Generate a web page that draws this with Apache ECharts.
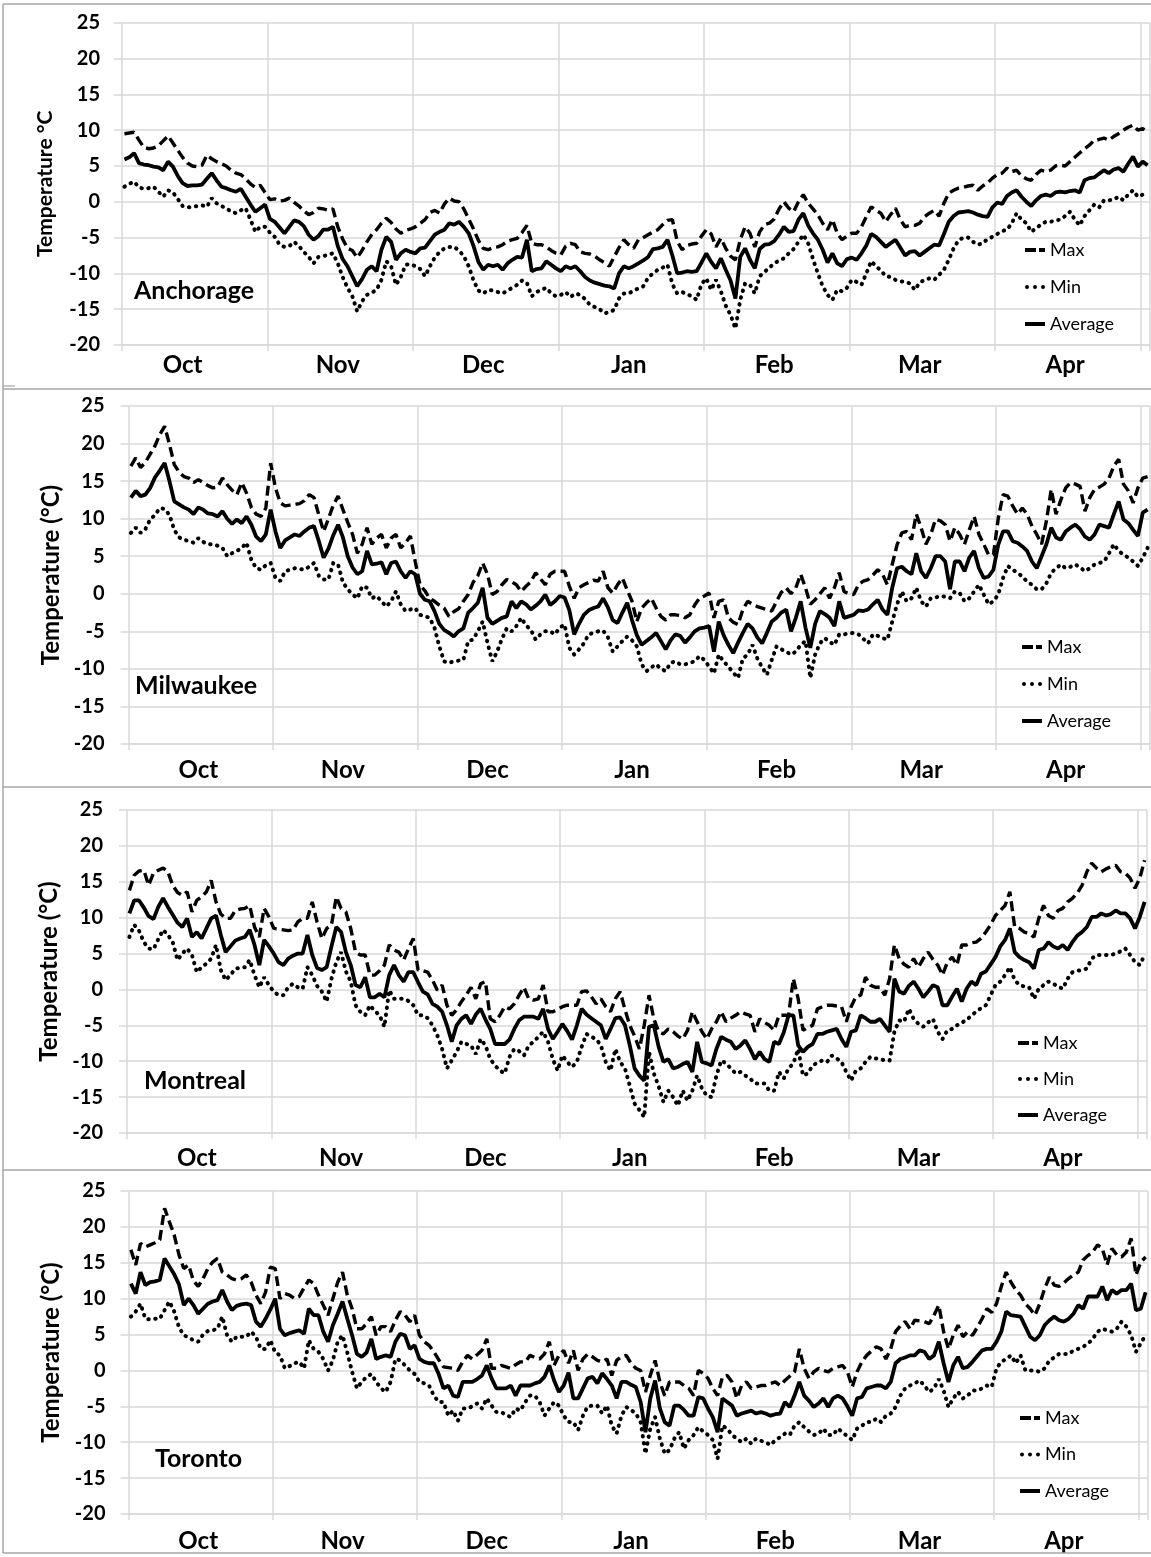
<!DOCTYPE html>
<html>
<head>
<meta charset="utf-8">
<title>Daily temperatures, October to April</title>
<script src="https://cdn.jsdelivr.net/npm/echarts@6/dist/echarts.min.js"></script>
<style>
  html, body { margin: 0; padding: 0; background: #ffffff; }
  #chart { width: 1151px; height: 1557px; }
</style>
</head>
<body>
<div id="chart"></div>
<script>
// Month names shown under each 30-day block of the category axis
const monthLabels = ['Oct', 'Nov', 'Dec', 'Jan', 'Feb', 'Mar', 'Apr'];
const seriesNames = ['Max', 'Min', 'Average'];

// Daily temperatures (°C), 1 October to 30 April
const anchorageMax = [
  9.5, 9.6, 9.7, 8.6, 7.6, 7.4, 7.5, 7.8, 8.5, 9.2,
  8.2, 7.2, 6.2, 5.4, 5.0, 4.9, 5.1, 6.5, 6.0, 5.6,
  5.3, 5.0, 4.4, 4.0, 3.8, 3.2, 2.5, 2.0, 2.3, 1.3,
  0.3, 0.4, 0.1, 0.2, 0.5, -0.1, -0.6, -1.3, -1.8, -1.5,
  -0.9, -1.0, -1.2, -1.0, -3.5, -5.2, -6.5, -6.8, -7.8, -6.8,
  -5.6, -4.6, -3.9, -3.0, -2.3, -2.9, -3.8, -4.4, -4.0, -3.8,
  -3.5, -3.0, -2.5, -1.5, -1.2, -1.6, -0.3, 0.5, 0.1, 0.0,
  -1.0, -2.4, -3.8, -5.4, -6.5, -6.7, -6.4, -6.3, -6.0, -5.5,
  -5.3, -5.1, -4.3, -3.3, -5.8, -6.0, -6.0, -6.3, -6.8, -7.2,
  -7.4, -6.2, -5.8, -6.0, -7.0, -7.2, -7.3, -7.6, -8.1, -8.5,
  -9.0, -7.7, -6.4, -5.3, -6.0, -6.5, -5.3, -5.0, -4.6, -4.2,
  -3.9, -3.2, -2.6, -2.5, -5.5, -6.7, -6.1, -5.9, -5.8, -4.8,
  -3.9, -4.5, -6.3, -5.1, -6.5, -7.6, -8.1, -5.3, -3.5, -4.4,
  -6.3, -4.2, -3.2, -3.0, -2.4, -1.0, 0.0, -0.9, -1.4, 0.0,
  1.0, -0.2, -1.0, -1.8, -3.0, -3.9, -2.5, -4.4, -5.3, -4.8,
  -4.4, -4.4, -3.5, -2.1, -0.7, -1.2, -1.6, -2.8, -1.8, -0.9,
  -2.5, -3.5, -3.3, -3.3, -3.0, -2.1, -1.6, -1.2, -2.0, -0.2,
  1.2, 1.6, 1.9, 2.0, 2.2, 2.3, 1.6, 2.2, 2.6, 3.3,
  3.8, 4.0, 4.7, 4.2, 4.4, 3.6, 3.2, 3.0, 3.8, 4.4,
  4.2, 4.4, 5.0, 5.1, 5.0, 5.6, 6.2, 6.8, 7.4, 7.9,
  8.6, 8.7, 8.9, 8.6, 9.1, 9.5, 10.0, 10.4, 10.7, 10.0,
  10.2, 9.8
];
const anchorageMin = [
  2.1, 2.5, 2.8, 2.0, 1.8, 1.9, 2.1, 1.4, 0.7, 1.6,
  1.3, 0.4, -0.6, -0.8, -0.7, -0.6, -0.5, -0.7, 0.5, -0.2,
  -0.6, -0.9, -1.4, -1.6, -1.2, -0.9, -2.5, -4.2, -3.5, -3.5,
  -4.3, -4.9, -6.0, -6.3, -6.2, -5.6, -6.2, -7.0, -7.7, -8.6,
  -7.7, -7.6, -7.4, -7.2, -8.6, -10.5, -12.0, -13.2, -15.3, -13.9,
  -13.0, -12.7, -12.3, -10.9, -8.3, -9.0, -11.6, -10.5, -8.8, -8.7,
  -9.0, -9.4, -10.4, -9.0, -7.8, -7.0, -6.5, -6.3, -6.3, -6.8,
  -7.6, -9.0, -11.0, -12.4, -12.8, -12.3, -12.4, -12.6, -12.8, -12.4,
  -12.0, -11.6, -11.0, -11.3, -13.2, -12.6, -12.3, -12.0, -12.8, -13.2,
  -13.0, -12.6, -13.3, -12.8, -13.0, -13.6, -14.4, -14.7, -15.0, -15.6,
  -15.4, -15.1, -13.5, -12.8, -12.8, -12.4, -12.1, -11.8, -10.6, -10.0,
  -9.5, -9.2, -8.8, -11.5, -12.8, -12.6, -12.9, -13.2, -13.7, -11.5,
  -10.7, -12.3, -10.9, -12.5, -14.5, -15.8, -17.7, -13.7, -11.4, -11.6,
  -12.8, -10.4, -9.8, -9.2, -8.6, -8.2, -7.9, -7.2, -6.6, -5.6,
  -4.6, -5.8, -8.0, -10.0, -11.8, -13.0, -13.7, -12.3, -12.5, -12.0,
  -10.9, -11.2, -11.6, -10.0, -8.3, -9.0, -9.6, -10.4, -10.5, -10.9,
  -11.1, -11.2, -11.4, -12.3, -11.3, -10.9, -10.7, -10.9, -10.2, -9.5,
  -8.1, -6.5, -5.4, -5.0, -5.0, -5.6, -6.0, -5.8, -5.2, -4.9,
  -4.5, -4.1, -3.9, -3.0, -1.6, -2.5, -3.0, -4.2, -3.7, -3.2,
  -2.8, -2.8, -2.6, -2.5, -2.0, -1.4, -2.5, -3.3, -2.0, -1.2,
  -0.4, -0.8, 0.2, 0.2, 0.3, 0.7, 0.2, 1.0, 1.6, 0.7,
  1.0, 1.2
];
const anchorageAvg = [
  5.9, 6.2, 6.8, 5.4, 5.2, 5.1, 4.9, 4.8, 4.4, 5.6,
  4.9, 3.6, 2.6, 2.2, 2.3, 2.3, 2.4, 3.2, 4.0, 3.0,
  2.1, 1.9, 1.6, 1.4, 1.8, 0.7, -0.4, -1.4, -0.9, -0.4,
  -2.4, -2.8, -3.6, -4.4, -3.5, -2.6, -2.8, -3.4, -4.6, -5.3,
  -4.8, -3.9, -3.9, -3.5, -6.2, -8.0, -9.0, -10.4, -11.8, -10.8,
  -9.5, -9.0, -9.7, -6.7, -4.9, -5.6, -8.1, -7.2, -6.7, -7.0,
  -7.2, -6.5, -6.4, -5.5, -4.6, -4.2, -3.9, -3.0, -3.2, -2.8,
  -3.5, -4.4, -6.2, -8.4, -9.5, -8.8, -9.0, -8.8, -9.5, -8.6,
  -8.1, -7.7, -7.8, -5.3, -9.7, -9.4, -9.3, -8.3, -8.8, -9.3,
  -9.7, -9.0, -9.3, -9.0, -9.7, -10.5, -11.0, -11.3, -11.5, -11.7,
  -11.8, -12.1, -10.0, -9.0, -9.3, -9.0, -8.6, -8.2, -7.7, -6.6,
  -6.5, -6.3, -5.3, -7.5, -10.0, -9.9, -9.7, -9.8, -9.7, -8.5,
  -7.2, -8.4, -9.3, -7.9, -9.5, -11.0, -13.5, -7.7, -6.5, -8.1,
  -9.3, -6.6, -6.0, -5.9, -5.5, -4.6, -3.5, -4.2, -4.1, -2.5,
  -1.6, -3.3, -4.4, -5.3, -6.7, -8.5, -7.2, -8.6, -9.0, -8.0,
  -7.8, -8.1, -7.2, -6.1, -4.5, -4.9, -5.6, -6.3, -5.8, -5.3,
  -6.4, -7.5, -7.0, -6.9, -7.5, -7.0, -6.5, -6.0, -6.1, -4.5,
  -2.8, -2.0, -1.5, -1.4, -1.3, -1.5, -1.8, -2.0, -2.1, -0.8,
  -0.1, -0.3, 0.8, 1.3, 1.6, 0.7, 0.0, -0.6, 0.2, 0.8,
  1.0, 0.8, 1.3, 1.4, 1.3, 1.5, 1.6, 1.3, 3.0, 3.3,
  3.4, 3.9, 4.4, 4.0, 4.5, 4.7, 4.2, 5.3, 6.3, 4.9,
  5.6, 5.1
];

const milwaukeeMax = [
  17.0, 18.1, 16.8, 17.5, 18.6, 19.7, 21.2, 22.3, 19.9, 17.2,
  16.2, 15.6, 15.4, 14.8, 15.2, 14.8, 14.4, 14.1, 14.2, 15.4,
  14.5, 13.8, 13.2, 14.8, 13.4, 11.5, 10.6, 10.3, 11.4, 17.4,
  14.1, 12.1, 11.7, 11.8, 11.9, 12.0, 12.4, 13.2, 12.8, 10.5,
  8.3, 10.0, 11.8, 13.0, 11.2, 9.5, 7.9, 5.4, 6.6, 8.8,
  6.6, 7.4, 7.9, 6.1, 7.4, 7.9, 6.1, 6.8, 7.7, 4.3,
  1.2, 0.4, -0.6, -1.0, -1.5, -1.9, -3.0, -2.4, -2.0, -1.0,
  -0.1, 1.5, 2.4, 4.1, 2.6, -0.1, 0.3, 1.2, 1.9, 1.6,
  1.2, 0.3, 1.0, 1.6, 2.8, 2.0, 1.2, 2.6, 3.0, 3.0,
  3.0, 1.0, -0.6, 0.8, 1.2, 1.5, 1.8, 1.7, 3.0, 0.8,
  0.1, 1.2, 2.1, 0.5, -1.0, -3.7, -1.9, -1.2, -0.6, -1.9,
  -3.0, -3.5, -2.8, -2.8, -2.9, -3.2, -2.8, -1.5, -0.6, -0.3,
  0.1, -3.2, -1.0, -0.8, -3.2, -3.8, -4.1, -2.1, -1.0, -1.4,
  -1.7, -1.9, -2.1, -2.3, -1.0, 0.2, 0.8, 0.0, 0.8, 2.6,
  0.8, -1.4, -0.8, 0.0, 0.8, -0.6, 0.8, 2.8, 0.3, 0.0,
  -0.1, 1.2, 1.7, 1.9, 2.5, 3.2, 2.6, 1.2, 3.9, 6.5,
  8.1, 8.3, 7.2, 10.6, 8.8, 6.6, 7.9, 9.9, 9.7, 9.2,
  7.0, 8.8, 7.9, 6.6, 8.5, 10.3, 7.9, 6.6, 5.2, 5.2,
  10.0, 13.2, 13.0, 11.7, 10.6, 11.4, 10.6, 9.0, 7.9, 6.6,
  9.7, 13.9, 10.6, 12.5, 14.1, 14.8, 14.6, 14.3, 11.0, 12.8,
  13.9, 14.2, 14.6, 15.4, 17.0, 17.9, 14.6, 13.7, 12.1, 14.1,
  15.4, 15.6
];
const milwaukeeMin = [
  8.1, 8.8, 8.1, 8.6, 9.9, 10.5, 11.4, 11.3, 10.5, 8.5,
  7.5, 7.2, 7.0, 6.8, 7.4, 6.9, 6.6, 6.6, 6.4, 6.1,
  5.0, 5.4, 5.7, 6.1, 6.8, 4.5, 3.4, 3.2, 3.8, 4.1,
  2.1, 1.7, 3.0, 3.2, 3.4, 3.3, 3.2, 3.6, 4.1, 2.4,
  1.9, 1.9, 4.1, 3.9, 1.5, 0.6, -0.1, -0.6, 1.0, 0.8,
  -0.6, -0.3, -1.0, -1.7, -1.0, 0.3, -1.4, -2.3, -2.1, -1.9,
  -2.8, -3.0, -3.2, -4.5, -7.0, -9.0, -9.2, -9.0, -8.9, -8.8,
  -6.3, -6.1, -5.0, -3.7, -6.5, -9.0, -7.7, -6.0, -4.6, -5.0,
  -4.3, -3.2, -4.2, -4.8, -6.1, -5.4, -5.0, -5.0, -5.4, -4.5,
  -4.1, -7.2, -8.1, -7.4, -6.6, -5.4, -5.2, -5.0, -4.9, -5.8,
  -7.7, -7.0, -6.3, -5.7, -6.2, -7.0, -9.4, -10.3, -9.8, -9.4,
  -10.0, -10.3, -9.2, -9.0, -9.4, -9.4, -9.2, -9.0, -8.3, -8.8,
  -9.7, -10.6, -8.1, -9.0, -9.7, -10.5, -11.2, -8.6, -8.1, -6.8,
  -8.6, -9.8, -10.8, -8.8, -7.0, -7.4, -7.7, -8.1, -7.7, -6.8,
  -6.3, -11.2, -8.1, -6.6, -5.9, -6.4, -6.8, -5.4, -5.4, -5.3,
  -5.2, -5.4, -6.0, -6.6, -5.4, -5.6, -5.9, -6.1, -3.7, -1.4,
  0.3, -1.0, -0.6, 0.8, -1.0, -1.7, -0.6, -0.5, -0.3, -0.4,
  -0.6, 0.3, 0.1, -1.0, -0.6, 0.3, 1.2, -0.1, -1.4, -1.0,
  -0.1, 2.1, 3.7, 3.2, 2.8, 2.3, 1.6, 1.2, 0.6, 0.6,
  1.4, 2.8, 3.4, 3.9, 3.4, 3.6, 3.9, 3.5, 3.0, 3.4,
  3.9, 4.1, 4.3, 5.4, 6.6, 5.7, 5.2, 4.8, 4.3, 3.7,
  4.8, 6.1
];
const milwaukeeAvg = [
  12.8, 13.7, 13.0, 13.2, 14.1, 15.5, 16.4, 17.4, 15.0, 12.3,
  11.9, 11.5, 11.2, 10.6, 11.5, 11.2, 10.7, 10.6, 10.3, 11.0,
  10.0, 9.3, 9.9, 9.4, 10.3, 9.2, 7.6, 7.0, 7.9, 11.2,
  8.3, 6.1, 7.1, 7.5, 7.9, 7.7, 8.3, 8.8, 9.0, 7.0,
  4.8, 6.0, 7.8, 9.2, 7.5, 5.0, 3.5, 2.6, 3.0, 5.7,
  3.9, 4.0, 4.2, 2.6, 4.1, 4.3, 3.0, 2.1, 3.0, 2.6,
  0.0, -0.8, -1.0, -2.3, -4.0, -4.8, -5.2, -5.7, -5.0, -4.6,
  -2.5, -1.9, -1.2, 0.8, -3.2, -4.0, -3.6, -3.2, -3.0, -1.0,
  -1.9, -1.0, -1.4, -2.1, -1.6, -1.0, -0.1, -1.5, -1.0, -0.3,
  -0.5, -2.2, -5.4, -4.0, -2.8, -2.2, -1.9, -1.7, -0.6, -1.8,
  -3.5, -3.9, -2.5, -1.2, -3.5, -5.5, -6.8, -6.3, -5.8, -5.2,
  -6.3, -7.4, -6.2, -5.4, -5.6, -6.5, -5.8, -5.0, -4.6, -4.5,
  -4.3, -7.7, -3.7, -5.5, -6.8, -7.9, -6.5, -5.2, -4.0, -4.6,
  -5.8, -6.6, -5.2, -3.7, -3.2, -2.5, -2.1, -5.0, -3.2, -1.0,
  -4.5, -7.2, -4.0, -2.3, -2.7, -3.2, -4.3, -1.0, -3.2, -3.0,
  -2.8, -2.2, -2.3, -2.1, -1.4, -0.8, -2.1, -2.8, 0.8, 3.4,
  3.6, 3.0, 2.6, 5.4, 3.0, 2.1, 3.4, 5.0, 5.0, 4.3,
  0.6, 4.3, 4.3, 3.0, 4.8, 5.7, 3.4, 2.1, 2.3, 3.2,
  6.5, 8.3, 8.3, 7.0, 6.8, 6.3, 5.7, 4.3, 3.4, 5.0,
  6.6, 8.8, 7.5, 7.2, 8.3, 8.8, 9.2, 8.6, 7.6, 7.2,
  7.9, 9.2, 9.0, 8.8, 10.6, 12.3, 9.9, 9.4, 8.5, 7.7,
  10.8, 11.2
];

const montrealMax = [
  13.8, 15.9, 16.5, 16.6, 14.5, 16.2, 16.6, 16.9, 16.4, 14.5,
  13.5, 13.1, 13.6, 10.8, 12.4, 12.9, 13.6, 15.2, 12.2, 10.5,
  9.9, 9.9, 11.0, 11.2, 11.3, 11.7, 8.7, 7.3, 11.3, 10.1,
  8.5, 8.4, 8.3, 8.2, 8.3, 9.4, 9.9, 9.9, 12.2, 9.4,
  7.1, 8.5, 9.0, 12.9, 11.3, 10.8, 8.5, 5.2, 4.8, 4.8,
  2.0, 2.0, 2.6, 3.4, 6.2, 5.5, 5.2, 4.1, 5.7, 7.1,
  2.7, 2.6, 2.4, 1.3, -0.1, 0.6, -2.2, -3.6, -2.8, -1.7,
  -0.8, 0.3, -1.3, 0.8, 1.1, -4.1, -4.5, -3.6, -2.4, -2.7,
  -2.0, -0.8, 0.3, -1.3, -1.5, -1.3, 0.6, -3.1, -3.1, -2.8,
  -2.4, -2.2, -2.2, -2.2, -0.3, -0.2, -1.0, -2.0, -1.3, -2.4,
  -3.1, -1.3, -0.3, -2.8, -5.0, -6.5, -8.3, -5.0, -0.8, -4.1,
  -5.9, -6.2, -5.5, -5.9, -6.5, -6.9, -5.7, -3.1, -4.5, -5.9,
  -6.9, -5.5, -4.5, -3.1, -4.5, -4.0, -3.6, -3.1, -3.4, -3.6,
  -5.9, -4.1, -4.6, -5.0, -5.7, -3.6, -3.6, -3.6, 1.5, -1.3,
  -5.7, -5.3, -5.0, -2.7, -2.4, -2.2, -2.2, -2.3, -2.4, -4.5,
  -2.4, -1.0, -0.8, 1.7, 0.6, 0.3, 0.3, -0.8, 1.5, 6.2,
  4.3, 3.5, 3.1, 4.3, 3.1, 4.3, 5.2, 4.2, 3.4, 2.0,
  3.8, 4.5, 3.4, 6.2, 6.2, 6.5, 6.6, 7.1, 8.0, 9.0,
  10.3, 11.0, 11.7, 13.6, 8.7, 8.5, 8.0, 7.8, 7.3, 9.9,
  11.7, 10.3, 9.9, 11.0, 11.3, 12.2, 12.7, 13.4, 14.5, 16.4,
  17.6, 16.9, 16.4, 16.8, 17.1, 17.3, 16.4, 16.2, 15.5, 14.1,
  15.5, 18.0
];
const montrealMin = [
  7.3, 9.0, 8.2, 6.6, 5.7, 5.6, 7.0, 8.3, 7.6, 6.6,
  4.1, 5.0, 5.7, 4.8, 2.4, 3.1, 3.6, 4.3, 6.2, 2.7,
  1.3, 2.0, 2.9, 3.0, 3.1, 4.1, 2.0, 0.3, 1.7, 0.6,
  -0.3, -0.8, -0.8, 0.3, 0.8, 0.3, 0.1, 3.1, 2.0, 0.5,
  -0.3, -1.7, 1.5, 3.8, 5.2, 2.5, 1.1, -2.2, -3.1, -3.6,
  -2.2, -3.0, -3.6, -5.2, -0.1, -1.3, -1.3, -1.3, -1.6, -2.2,
  -3.6, -3.6, -4.0, -5.0, -6.4, -8.3, -11.0, -9.9, -8.7, -7.3,
  -7.6, -7.8, -9.0, -6.9, -7.8, -9.7, -10.6, -11.3, -11.7, -9.4,
  -8.3, -8.6, -9.2, -7.8, -7.3, -6.6, -5.9, -7.3, -9.7, -11.3,
  -9.2, -10.1, -10.8, -10.1, -8.0, -6.2, -6.6, -6.9, -7.8, -10.1,
  -11.3, -8.3, -10.1, -11.0, -13.4, -15.9, -16.8, -17.8, -8.7, -11.7,
  -13.5, -15.7, -14.1, -15.0, -16.2, -14.1, -15.5, -14.1, -12.0, -13.8,
  -14.8, -15.0, -12.0, -9.9, -10.3, -11.0, -11.7, -11.5, -12.0, -12.4,
  -13.1, -13.1, -13.1, -14.1, -14.1, -11.5, -12.4, -11.0, -10.3, -8.3,
  -12.0, -11.7, -10.6, -10.2, -9.9, -10.1, -9.2, -9.6, -10.1, -11.5,
  -12.7, -11.3, -11.0, -10.1, -9.4, -9.6, -9.7, -9.9, -9.9, -5.9,
  -4.3, -4.5, -2.7, -4.1, -4.8, -5.2, -4.6, -4.1, -5.9, -6.9,
  -5.7, -5.5, -5.0, -4.6, -4.3, -3.6, -3.1, -2.6, -2.2, -0.8,
  0.6, 1.1, 2.0, 3.1, 1.3, 0.6, 0.4, 0.3, -1.3, 0.1,
  0.6, 1.1, 0.8, 0.4, 0.1, 1.5, 2.4, 2.6, 2.7, 2.9,
  4.3, 4.8, 4.8, 4.8, 4.8, 5.0, 5.3, 5.7, 4.8, 3.8,
  3.4, 4.8
];
const montrealAvg = [
  10.6, 12.4, 12.4, 11.4, 10.2, 9.8, 11.5, 12.7, 11.5, 10.4,
  9.3, 8.7, 9.9, 7.3, 8.0, 7.1, 8.5, 9.9, 10.3, 7.6,
  5.2, 6.0, 6.8, 7.1, 7.3, 8.3, 6.2, 3.4, 6.9, 6.0,
  5.0, 3.8, 3.4, 4.3, 4.7, 5.0, 5.0, 7.6, 4.8, 3.0,
  2.7, 3.1, 6.0, 8.7, 8.0, 5.2, 3.4, 0.6, 0.3, 1.7,
  -1.1, -1.1, -0.6, -1.1, 2.0, 3.4, 2.0, 1.1, 2.4, 2.4,
  1.0, -0.3, -0.7, -2.0, -2.4, -3.1, -5.0, -7.3, -5.0, -4.1,
  -3.6, -4.8, -3.5, -2.7, -4.2, -5.5, -7.6, -7.6, -7.6, -7.0,
  -5.5, -4.3, -3.8, -3.8, -3.8, -4.1, -2.7, -5.5, -6.9, -5.9,
  -4.8, -5.8, -7.0, -5.0, -2.7, -3.5, -4.0, -4.5, -5.0, -6.9,
  -5.5, -4.0, -3.9, -5.0, -7.8, -11.0, -12.0, -12.7, -5.2, -5.0,
  -8.0, -10.1, -9.7, -11.0, -10.8, -10.4, -10.1, -11.5, -7.3, -10.1,
  -10.3, -10.6, -8.3, -6.6, -7.0, -7.3, -8.3, -7.8, -7.1, -8.3,
  -9.7, -8.7, -9.7, -10.1, -7.3, -7.6, -6.0, -3.6, -3.6, -7.8,
  -8.7, -8.0, -7.6, -6.2, -6.2, -5.9, -5.7, -5.5, -6.9, -8.0,
  -5.9, -5.7, -3.6, -4.0, -4.5, -4.5, -4.1, -5.0, -5.9, 1.5,
  -0.3, -0.6, 0.5, 1.1, 0.1, -1.1, -0.3, 0.6, 0.3, -2.2,
  -2.2, -1.0, 0.1, -1.7, 0.1, 1.1, 0.6, 2.2, 2.5, 3.5,
  4.5, 6.0, 6.9, 8.5, 5.2, 4.5, 4.1, 3.8, 2.9, 5.5,
  5.7, 6.6, 6.0, 5.7, 6.2, 5.5, 6.6, 7.5, 8.0, 8.7,
  10.1, 10.1, 10.6, 10.3, 10.5, 11.0, 10.6, 10.6, 9.9, 8.5,
  10.1, 12.2
];

const torontoMax = [
  16.8, 14.7, 17.7, 17.2, 17.5, 17.8, 18.2, 22.6, 20.7, 18.9,
  16.1, 14.2, 14.7, 12.5, 11.7, 12.8, 14.2, 15.1, 15.6, 13.7,
  13.3, 12.8, 12.6, 12.8, 13.3, 12.3, 10.5, 9.3, 10.9, 14.4,
  14.2, 10.0, 10.7, 10.5, 10.0, 10.3, 11.5, 12.6, 12.1, 10.5,
  9.1, 7.7, 10.0, 12.3, 13.7, 10.5, 8.6, 5.8, 5.8, 6.5,
  7.5, 4.9, 6.1, 6.1, 5.4, 7.0, 8.2, 7.7, 6.8, 7.7,
  4.9, 4.0, 3.5, 2.6, 1.5, 0.5, 0.4, 0.3, 0.0, 1.2,
  2.1, 1.6, 2.2, 2.8, 4.4, 0.3, 0.3, 0.7, 0.5, 0.3,
  0.8, 1.2, 1.2, 2.1, 1.8, 1.6, 2.3, 4.0, 0.7, 2.1,
  2.8, 1.0, 2.8, 0.0, 1.6, 2.3, 1.9, 1.4, 1.2, 1.6,
  -0.7, 1.4, 1.9, 2.1, 1.0, 0.3, 0.0, -3.0, -0.7, 1.4,
  -1.6, -3.5, -1.6, -1.6, -1.6, -2.1, -2.5, -3.5, 0.0, -0.4,
  -1.1, -2.5, -3.5, -0.9, -0.7, -1.6, -3.9, -2.1, -1.6, -2.5,
  -2.3, -2.1, -2.1, -1.8, -1.6, -2.1, -1.4, -0.8, -0.2, 3.0,
  0.3, -1.1, -0.2, 0.3, 0.0, -0.2, 0.3, 0.5, 0.7, -0.2,
  -2.3, -0.2, 1.2, 2.1, 2.7, 3.3, 3.0, 1.6, 3.0, 5.4,
  6.2, 6.8, 5.8, 7.0, 6.9, 6.8, 6.5, 7.7, 9.1, 5.4,
  3.0, 4.9, 6.3, 4.7, 5.4, 4.9, 6.0, 7.2, 8.6, 8.1,
  9.3, 11.7, 13.7, 12.3, 11.2, 10.5, 9.3, 8.6, 7.7, 9.3,
  11.4, 13.0, 11.9, 11.7, 12.2, 12.8, 13.3, 13.7, 15.4, 16.0,
  16.5, 17.5, 17.0, 14.7, 17.0, 16.1, 15.8, 16.5, 18.4, 13.3,
  15.1, 15.8
];
const torontoMin = [
  7.5, 8.2, 9.3, 7.2, 7.1, 7.2, 7.2, 8.4, 9.6, 8.2,
  6.0, 4.9, 4.6, 4.2, 4.0, 5.0, 5.5, 5.6, 5.8, 7.5,
  4.9, 4.0, 4.7, 4.7, 4.7, 5.4, 4.7, 3.0, 3.0, 4.2,
  2.5, 2.1, 0.3, 0.6, 1.0, 1.2, 0.3, 4.2, 3.0, 2.6,
  1.6, 0.0, 1.4, 4.0, 4.9, 2.5, -0.2, -2.5, -1.6, -0.9,
  -0.5, -1.6, -2.5, -3.0, -1.6, 1.6, 1.4, 0.7, 0.0, -0.5,
  -1.6, -1.8, -2.1, -3.5, -4.4, -4.4, -6.3, -5.6, -7.0, -5.3,
  -5.3, -5.0, -4.6, -5.3, -3.9, -4.9, -5.8, -5.8, -6.2, -6.5,
  -5.3, -5.6, -4.4, -3.5, -3.5, -4.4, -6.3, -5.3, -4.4, -4.9,
  -6.3, -7.2, -7.2, -8.3, -6.3, -5.0, -4.9, -4.9, -6.0, -4.9,
  -7.7, -8.8, -6.3, -5.1, -5.5, -6.0, -7.2, -11.6, -8.1, -6.5,
  -9.5, -11.6, -11.1, -9.5, -8.6, -10.9, -9.7, -9.0, -7.9, -8.5,
  -9.0, -9.7, -12.3, -7.7, -8.1, -9.0, -9.5, -10.0, -9.5, -10.2,
  -9.5, -9.8, -10.0, -10.4, -9.7, -9.3, -8.8, -9.0, -7.7, -7.2,
  -7.9, -8.5, -9.0, -8.8, -8.1, -9.0, -9.0, -8.1, -8.6, -9.2,
  -9.7, -8.1, -7.7, -7.2, -7.2, -6.7, -7.2, -6.3, -6.0, -5.1,
  -3.5, -2.5, -2.1, -1.8, -1.4, -2.1, -3.0, -2.5, -1.2, -2.8,
  -5.1, -3.9, -3.0, -3.9, -3.5, -2.8, -2.8, -2.5, -2.1, -2.3,
  0.3, 1.2, 1.6, 2.1, 1.0, 2.1, 0.0, 0.0, 0.0, -0.2,
  0.3, 1.4, 1.8, 2.3, 2.3, 2.3, 2.8, 3.0, 3.3, 3.7,
  4.4, 5.4, 5.8, 5.6, 5.4, 5.8, 6.8, 6.1, 4.9, 2.6,
  3.8, 4.9
];
const torontoAvg = [
  12.1, 10.7, 13.7, 11.9, 12.3, 12.4, 12.6, 15.6, 14.5, 13.4,
  12.0, 9.1, 10.0, 9.1, 7.9, 8.6, 9.3, 9.6, 9.8, 11.2,
  9.6, 8.4, 9.0, 9.2, 9.3, 9.1, 6.8, 6.1, 7.2, 8.5,
  10.0, 5.8, 4.9, 5.2, 5.4, 5.6, 5.1, 8.6, 7.7, 7.7,
  5.4, 4.0, 6.3, 7.9, 9.6, 7.2, 4.9, 2.3, 1.9, 2.5,
  4.4, 1.6, 1.9, 2.1, 1.9, 4.0, 5.1, 4.9, 3.0, 3.5,
  1.6, 1.2, 1.0, 1.0, -0.5, -2.5, -2.1, -3.5, -3.7, -1.6,
  -1.6, -1.6, -1.2, -0.7, 0.7, -1.1, -2.5, -2.5, -2.5, -2.1,
  -3.5, -2.1, -2.1, -2.1, -1.8, -1.6, -0.9, 0.7, -1.4, -3.0,
  -2.1, -0.3, -3.9, -3.9, -2.5, -1.1, -0.9, -1.8, -0.4, -1.2,
  -2.1, -3.9, -1.6, -1.6, -2.0, -2.3, -4.4, -8.6, -3.9, -1.4,
  -5.3, -7.2, -7.7, -4.9, -4.9, -5.5, -6.3, -6.3, -3.7, -3.9,
  -5.3, -6.5, -8.6, -3.9, -4.4, -4.9, -6.3, -6.0, -5.8, -5.6,
  -6.0, -5.8, -6.0, -6.3, -6.1, -6.0, -4.4, -5.1, -3.5, -1.6,
  -3.5, -4.2, -5.1, -4.6, -3.9, -5.1, -3.9, -3.5, -3.9, -5.0,
  -6.3, -3.9, -3.7, -2.5, -2.3, -2.1, -2.1, -2.5, -1.6, 1.0,
  1.6, 1.8, 2.1, 2.1, 2.8, 2.6, 1.6, 2.1, 4.0, 1.0,
  -1.6, 0.7, 1.9, 0.3, 0.5, 1.2, 2.0, 2.8, 3.0, 3.0,
  4.0, 5.4, 8.2, 7.7, 7.6, 7.5, 6.1, 4.7, 4.2, 4.9,
  6.3, 7.0, 7.5, 7.0, 6.8, 7.2, 7.9, 9.1, 8.6, 10.3,
  10.3, 10.3, 11.7, 9.8, 11.2, 10.7, 11.2, 11.2, 12.1, 8.4,
  8.6, 10.9
];

// Category axis: one slot per day
const days = anchorageMax.map((_, i) => i + 1);

const FONT = 'Lato, "Liberation Sans", "DejaVu Sans", sans-serif';
const GRID_GRAY = '#d9d9d9';
const INK = '#000000';

// Legend swatches: dashed, dotted and solid strokes
const ICON_MAX = 'path://M0,0H11V4H0Z M14,0H20V4H14Z';
const ICON_MIN = 'path://M0,2a2,2 0 1,0 4,0a2,2 0 1,0 -4,0Z M8,2a2,2 0 1,0 4,0a2,2 0 1,0 -4,0Z M16,2a2,2 0 1,0 4,0a2,2 0 1,0 -4,0Z';
const ICON_AVG = 'path://M0,0H20V4H0Z';

// One panel per city, stacked top to bottom
const panels = [
  { city: 'Anchorage', yName: 'Temperature °C', max: anchorageMax, min: anchorageMin, avg: anchorageAvg,
    left: 122, top: 22.7, width: 1028, height: 322.3, labelDays: [12, 44, 74, 104, 134, 164, 194],
    xMargin: 8, yMargin: 22, nameGap: 66, nameSize: 21,
    legendLeft: 1025, legendTop: 240, legendGap: 17, cityLeft: 134, cityTop: 278 },
  { city: 'Milwaukee', yName: 'Temperature (°C)', max: milwaukeeMax, min: milwaukeeMin, avg: milwaukeeAvg,
    left: 128.5, top: 406, width: 1021.5, height: 338, labelDays: [14, 44, 74, 104, 134, 164, 194],
    xMargin: 14, yMargin: 24, nameGap: 65, nameSize: 24,
    legendLeft: 1022, legendTop: 637, legendGap: 17, cityLeft: 135, cityTop: 673 },
  { city: 'Montreal', yName: 'Temperature (°C)', max: montrealMax, min: montrealMin, avg: montrealAvg,
    left: 127, top: 810, width: 1020, height: 323, labelDays: [14, 44, 74, 104, 134, 164, 194],
    xMargin: 13, yMargin: 24, nameGap: 64, nameSize: 24,
    legendLeft: 1018, legendTop: 1033, legendGap: 16, cityLeft: 144, cityTop: 1068 },
  { city: 'Toronto', yName: 'Temperature (°C)', max: torontoMax, min: torontoMin, avg: torontoAvg,
    left: 128.5, top: 1191, width: 1019.5, height: 323, labelDays: [14, 44, 74, 104, 134, 164, 194],
    xMargin: 15, yMargin: 23, nameGap: 65, nameSize: 24,
    legendLeft: 1020, legendTop: 1408, legendGap: 16.5, cityLeft: 155, cityTop: 1446 }
];

// Month gridlines every 30 days
const monthBoundary = (idx) => idx % 30 === 0;

const grids = [], xAxes = [], yAxes = [], series = [], legends = [], titles = [];

panels.forEach((p, i) => {
  grids.push({ left: p.left, top: p.top, width: p.width, height: p.height,
               containLabel: false, outerBoundsMode: 'none' });

  xAxes.push({
    type: 'category', gridIndex: i, data: days, boundaryGap: true,
    axisLine: { show: true, onZero: false, lineStyle: { color: GRID_GRAY, width: 1.5 } },
    axisTick: { show: true, interval: monthBoundary, length: 6, lineStyle: { color: GRID_GRAY, width: 1.5 } },
    splitLine: { show: true, interval: monthBoundary, lineStyle: { color: GRID_GRAY, width: 1.5 } },
    axisLabel: {
      interval: (idx) => p.labelDays.indexOf(idx) >= 0,
      formatter: (val, idx) => monthLabels[p.labelDays.indexOf(idx)] || '',
      fontFamily: FONT, fontSize: 24, fontWeight: 'bold', color: INK, margin: p.xMargin
    }
  });

  yAxes.push({
    type: 'value', gridIndex: i, min: -20, max: 25, interval: 5,
    name: p.yName, nameLocation: 'middle', nameGap: p.nameGap,
    nameTextStyle: { fontFamily: FONT, fontSize: p.nameSize, fontWeight: 'bold', color: INK },
    axisLine: { show: false },
    axisTick: { show: true, length: 8, lineStyle: { color: GRID_GRAY, width: 1.5 } },
    splitLine: { show: true, lineStyle: { color: GRID_GRAY, width: 1.5 } },
    axisLabel: { fontFamily: FONT, fontSize: 20, fontWeight: 'bold', color: INK, margin: p.yMargin }
  });

  const common = { type: 'line', xAxisIndex: i, yAxisIndex: i, symbol: 'none',
                   smooth: false, itemStyle: { color: INK }, emphasis: { disabled: true } };
  series.push(Object.assign({}, common, {
    name: 'Max', data: p.max,
    lineStyle: { color: INK, width: 3.4, type: [10, 5] }
  }));
  series.push(Object.assign({}, common, {
    name: 'Min', data: p.min,
    lineStyle: { color: INK, width: 4, type: [0.5, 6.5], cap: 'round' }
  }));
  series.push(Object.assign({}, common, {
    name: 'Average', data: p.avg,
    lineStyle: { color: INK, width: 3.8 }
  }));

  legends.push({
    orient: 'vertical', left: p.legendLeft, top: p.legendTop, itemGap: p.legendGap,
    itemWidth: 20, itemHeight: 4, padding: 0, selectedMode: false,
    itemStyle: { borderWidth: 0 },
    data: [
      { name: seriesNames[0], icon: ICON_MAX },
      { name: seriesNames[1], icon: ICON_MIN },
      { name: seriesNames[2], icon: ICON_AVG }
    ],
    textStyle: { fontFamily: FONT, fontSize: 18, color: INK, lineHeight: 20 }
  });

  titles.push({
    text: p.city, left: p.cityLeft, top: p.cityTop, padding: 0,
    textStyle: { fontFamily: FONT, fontSize: 25, fontWeight: 'bold', color: INK }
  });
});

// Frame lines around the stacked panels
const FRAME = '#a6a6a6';
const frameRows = [4, 389, 787, 1170, 1553];
const graphic = frameRows.map((y) => ({
  type: 'line', silent: true, z: 100,
  shape: { x1: 3, y1: y, x2: 1151, y2: y },
  style: { stroke: FRAME, lineWidth: 1.5 }
}));
graphic.push({ type: 'line', silent: true, z: 100,
  shape: { x1: 3, y1: 4, x2: 3, y2: 1553 }, style: { stroke: FRAME, lineWidth: 1.5 } });
graphic.push({ type: 'line', silent: true, z: 100,
  shape: { x1: 3, y1: 386, x2: 15, y2: 386 }, style: { stroke: FRAME, lineWidth: 1.2 } });

const chart = echarts.init(document.getElementById('chart'), null, { renderer: 'canvas' });
chart.setOption({
  animation: false,
  backgroundColor: '#ffffff',
  textStyle: { fontFamily: FONT },
  title: titles,
  legend: legends,
  grid: grids,
  xAxis: xAxes,
  yAxis: yAxes,
  series: series,
  graphic: graphic
});
</script>
</body>
</html>
